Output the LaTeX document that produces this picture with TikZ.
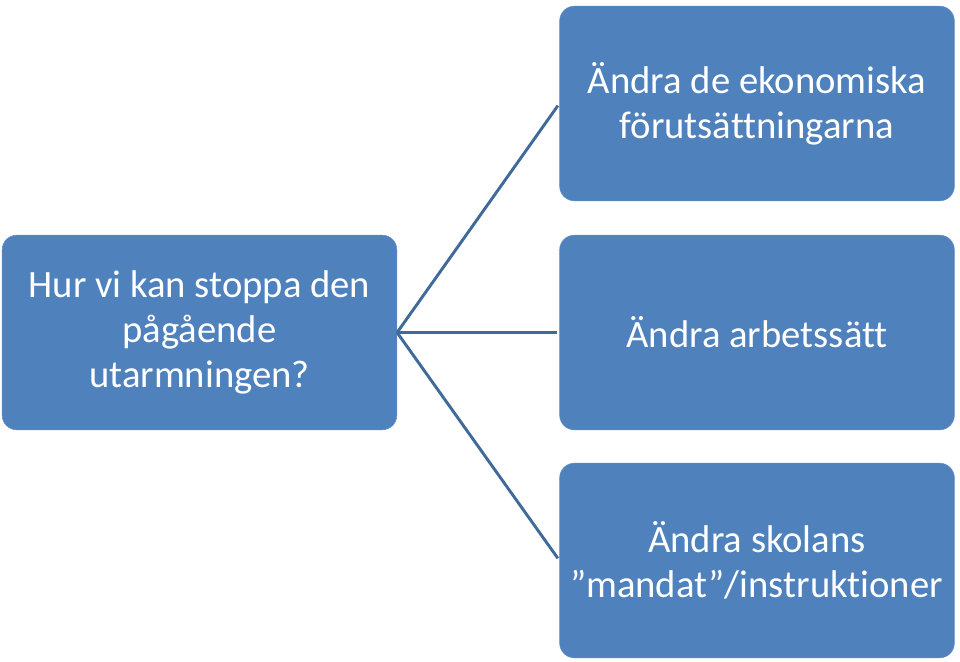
\documentclass[tikz,border=0pt]{standalone}
\usepackage{fontspec}
\setmainfont{Carlito}[Ligatures=CommonOff]
\usepackage{xcolor}
\usepackage{tikz}
\usetikzlibrary{positioning}
\definecolor{boxblue}{HTML}{4F81BD}
\definecolor{lineblue}{HTML}{3F6A9A}

\begin{document}
\begin{tikzpicture}
  [
    x=0.75pt, y=-0.75pt,
    Box/.style={rectangle, rounded corners=11pt, fill=boxblue, draw=boxblue!90!white, thin, text=white, align=center, minimum width=296pt, minimum height=146pt, inner sep=0pt, font=\fontsize{29}{33.5}\selectfont},
    Link/.style={draw, lineblue, line width=2.2pt, shorten >=2pt}
  ]
  \useasboundingbox (0,0) rectangle (960,661);
  % Nodes
  \node[Box] (q) at(199.5, 332.5) {Hur vi kan stoppa den\\pågående\\utarmningen?};
  \node[Box] (a1) at(757, 103.5) {Ändra de ekonomiska\\förutsättningarna};
  \node[Box] (a2) at(757, 332.5) {Ändra arbetssätt};
  \node[Box] (a3) at(757, 560.5) {Ändra skolans\\”mandat”/instruktioner};

  % Lines
  \path [Link] (q.east) -- (a1.west);
  \path [Link] (q.east) -- (a2.west);
  \path [Link] (q.east) -- (a3.west);

\end{tikzpicture}
\end{document}
